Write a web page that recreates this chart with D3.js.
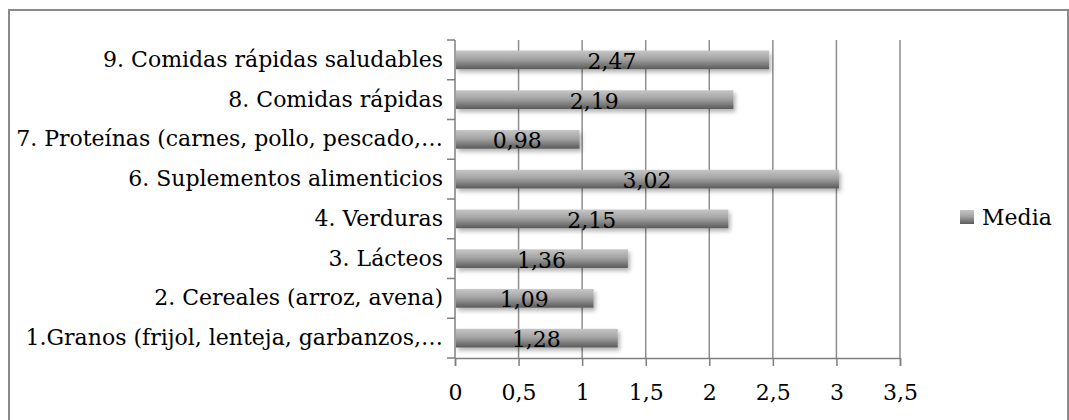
<!DOCTYPE html>
<html>
<head>
<meta charset="utf-8">
<script src="https://cdn.jsdelivr.net/npm/d3@7"></script>
<style>
  html, body { margin: 0; padding: 0; background: #fff; }
  svg { display: block; }
  text { font-family: "DejaVu Serif", serif; fill: #000; }
</style>
</head>
<body>
<svg id="chart" width="1069" height="420"></svg>
<script>
const categories = [
  "1.Granos (frijol, lenteja, garbanzos,…",
  "2. Cereales (arroz, avena)",
  "3. Lácteos",
  "4. Verduras",
  "6. Suplementos alimenticios",
  "7. Proteínas (carnes, pollo, pescado,…",
  "8. Comidas rápidas",
  "9. Comidas rápidas saludables"
];
const media = [1.28, 1.09, 1.36, 2.15, 3.02, 0.98, 2.19, 2.47];
const xTicks = [0, 0.5, 1, 1.5, 2, 2.5, 3, 3.5];
const seriesName = "Media";

const svg = d3.select("#chart");
const fontSize = 22;
const fontFam = "DejaVu Serif";

// outer border
svg.append("rect")
  .attr("x", 9).attr("y", 10)
  .attr("width", 1059).attr("height", 430)
  .attr("fill", "none").attr("stroke", "#8a8a8a").attr("stroke-width", 2);

const plot = { left: 455, right: 900, top: 40, bottom: 358 };

const x = d3.scaleLinear().domain([0, 3.5]).range([plot.left, plot.right]);
const y = d3.scaleBand()
  .domain(categories.slice().reverse())
  .range([plot.top, plot.bottom])
  .paddingInner(0.53).paddingOuter(0.265);

const defs = svg.append("defs");
const grad = defs.append("linearGradient").attr("id", "barGrad")
  .attr("x1", 0).attr("y1", 0).attr("x2", 0).attr("y2", 1);
grad.append("stop").attr("offset", "0%").attr("stop-color", "#c6c6c6");
grad.append("stop").attr("offset", "45%").attr("stop-color", "#a4a4a4");
grad.append("stop").attr("offset", "100%").attr("stop-color", "#5a5a5a");

const filt = defs.append("filter").attr("id", "shadow")
  .attr("x", "-5%").attr("y", "-30%").attr("width", "115%").attr("height", "180%");
filt.append("feDropShadow").attr("dx", 2).attr("dy", 3).attr("stdDeviation", 2)
  .attr("flood-color", "#000").attr("flood-opacity", 0.3);

// gridlines
svg.append("g").selectAll("line")
  .data(xTicks.filter(d => d > 0))
  .join("line")
  .attr("x1", d => x(d)).attr("x2", d => x(d))
  .attr("y1", plot.top).attr("y2", plot.bottom)
  .attr("stroke", "#8e8e8e").attr("stroke-width", 1.5);

// bars
svg.append("g").selectAll("rect")
  .data(categories.map((c, i) => ({ c, v: media[i] })))
  .join("rect")
  .attr("x", x(0) + 1)
  .attr("y", d => y(d.c))
  .attr("width", d => x(d.v) - x(0) - 1)
  .attr("height", y.bandwidth())
  .attr("fill", "url(#barGrad)")
  .attr("filter", "url(#shadow)");

// data labels
svg.append("g").selectAll("text")
  .data(categories.map((c, i) => ({ c, v: media[i] })))
  .join("text")
  .attr("x", d => (x(0) + x(d.v)) / 2)
  .attr("y", d => y(d.c) + y.bandwidth() / 2 + 9)
  .attr("text-anchor", "middle")
  .attr("font-size", fontSize)
  .attr("font-family", fontFam)
  .text(d => d3.format(".2f")(d.v).replace(".", ","));

// y axis
const yAxis = d3.axisLeft(y).tickSize(0).tickPadding(12);
const yg = svg.append("g").attr("transform", `translate(${plot.left},0)`).call(yAxis);
yg.attr("font-family", fontFam);
yg.select(".domain").remove();
yg.selectAll("text").attr("font-size", fontSize).attr("font-family", fontFam).attr("fill", "#000");

// y boundary ticks
const bounds = d3.range(categories.length + 1).map(i => plot.top + i * (plot.bottom - plot.top) / categories.length);
svg.append("g").selectAll("line").data(bounds).join("line")
  .attr("x1", plot.left - 8).attr("x2", plot.left)
  .attr("y1", d => d).attr("y2", d => d)
  .attr("stroke", "#7f7f7f").attr("stroke-width", 1.5);
svg.append("line")
  .attr("x1", plot.left).attr("x2", plot.left)
  .attr("y1", plot.top).attr("y2", plot.bottom)
  .attr("stroke", "#7f7f7f").attr("stroke-width", 1.5);

// x axis
const xAxis = d3.axisBottom(x).tickValues(xTicks).tickSize(8).tickPadding(18)
  .tickFormat(d => String(d).replace(".", ","));
const xg = svg.append("g").attr("transform", `translate(0,${plot.bottom})`).call(xAxis);
xg.attr("font-family", fontFam);
xg.select(".domain").attr("stroke", "#7f7f7f").attr("stroke-width", 1.5);
xg.selectAll(".tick line").attr("stroke", "#7f7f7f").attr("stroke-width", 1.5);
xg.selectAll("text").attr("font-size", fontSize).attr("font-family", fontFam).attr("fill", "#000");

// legend
const lg = svg.append("g");
lg.append("rect").attr("x", 960).attr("y", 210).attr("width", 14).attr("height", 14)
  .attr("fill", "url(#barGrad)");
lg.append("text").attr("x", 982).attr("y", 225).attr("font-size", fontSize)
  .attr("font-family", fontFam).text(seriesName);
</script>
</body>
</html>
